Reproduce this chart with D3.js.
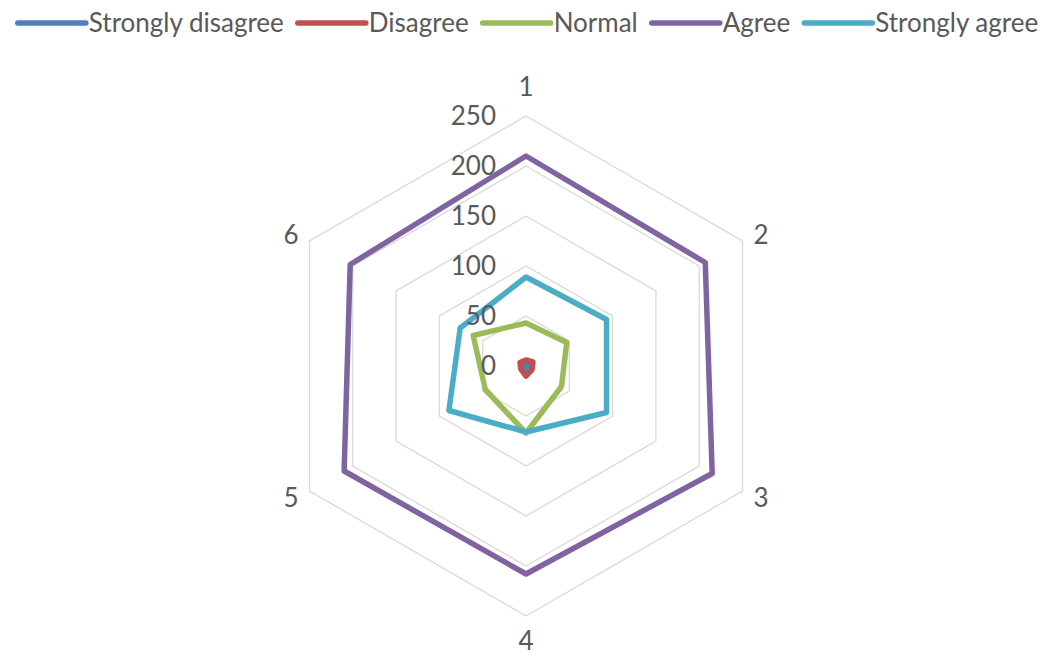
<!DOCTYPE html>
<html>
<head>
<meta charset="utf-8">
<script src="https://cdn.jsdelivr.net/npm/d3@7"></script>
<style>
  body { margin: 0; background: #fff; }
  svg { display: block; }
  text { font-family: Lato, "Open Sans", sans-serif; fill: #595959; }
</style>
</head>
<body>
<svg id="chart" width="1053" height="656"></svg>
<script>
// categories (spokes) and series
var categories = ['1', '2', '3', '4', '5', '6'];
var seriesNames = ['Strongly disagree', 'Disagree', 'Normal', 'Agree', 'Strongly agree'];
var stronglyDisagree = [2, 3, 2, 3, 2, 2];
var disagree = [6, 8, 7, 10, 6, 7];
var normal = [43, 47, 41, 67, 47, 61];
var agree = [210, 207, 215, 208, 210, 203];
var stronglyAgree = [89, 93, 93, 66, 89, 76];
var tickValues = [0, 50, 100, 150, 200, 250];

var colors = ['#4F81BD', '#C0504D', '#9BBB59', '#8064A2', '#4BACC6'];
var seriesData = [stronglyDisagree, disagree, normal, agree, stronglyAgree];

var svg = d3.select('#chart');
var cx = 526, cy = 366, maxR = 250;
var rScale = d3.scaleLinear().domain([0, 250]).range([0, maxR]);
var angle = d3.scalePoint().domain(categories.concat(['_'])).range([0, 2 * Math.PI]);

function pt(cat, v) {
  var a = angle(cat), r = rScale(v);
  return [cx + r * Math.sin(a), cy - r * Math.cos(a)];
}

var radial = d3.line().curve(d3.curveLinearClosed);

// grid rings
var grid = svg.append('g').attr('class', 'grid');
grid.selectAll('path')
  .data(tickValues.filter(function(d){ return d > 0; }))
  .enter().append('path')
  .attr('d', function(v){ return radial(categories.map(function(c){ return pt(c, v); })); })
  .attr('fill', 'none')
  .attr('stroke', '#d9d9d9')
  .attr('stroke-width', 1.3);

// series
var lines = svg.append('g').attr('class', 'series');
lines.selectAll('path')
  .data(seriesData)
  .enter().append('path')
  .attr('d', function(vals){ return radial(categories.map(function(c, i){ return pt(c, vals[i]); })); })
  .attr('fill', 'none')
  .attr('stroke', function(d, i){ return colors[i]; })
  .attr('stroke-width', 5.5)
  .attr('stroke-linejoin', 'round');

// value tick labels
svg.append('g').selectAll('text')
  .data(tickValues)
  .enter().append('text')
  .attr('x', cx - 30)
  .attr('y', function(v){ return cy - rScale(v); })
  .attr('dy', '0.35em')
  .attr('text-anchor', 'end')
  .style('font-size', '26px')
  .text(function(v){ return v; });

// category labels
svg.append('g').selectAll('text')
  .data(categories)
  .enter().append('text')
  .each(function(c){
    var a = angle(c), s = Math.sin(a), co = Math.cos(a);
    var p = pt(c, 250);
    var t = d3.select(this).style('font-size', '26px').attr('dy', '0.35em').text(c);
    if (Math.abs(s) < 0.01) {
      t.attr('x', p[0]).attr('y', p[1] - co * (co > 0 ? 29 : 25)).attr('text-anchor', 'middle');
    } else {
      t.attr('x', p[0] + (s > 0 ? 11 : -11))
       .attr('y', p[1] - co * 13)
       .attr('text-anchor', s > 0 ? 'start' : 'end');
    }
  });

// legend
var legend = svg.append('g').attr('class', 'legend');
var lineLen = 68, gapIn = 3, gapOut = 14, ly = 23;
var items = legend.selectAll('g').data(seriesNames).enter().append('g');
items.append('line')
  .attr('x1', 0).attr('x2', lineLen).attr('y1', ly).attr('y2', ly)
  .attr('stroke', function(d, i){ return colors[i]; })
  .attr('stroke-width', 5.5)
  .attr('stroke-linecap', 'round');
items.append('text')
  .attr('x', lineLen + gapIn).attr('y', ly).attr('dy', '0.35em')
  .style('font-size', '26px')
  .text(function(d){ return d; });
var xPos = 0, offsets = [];
items.each(function(){
  offsets.push(xPos);
  xPos += lineLen + gapIn + this.querySelector('text').getComputedTextLength() + gapOut;
});
var total = xPos - gapOut;
var start = 528 - total / 2;
items.attr('transform', function(d, i){ return 'translate(' + (start + offsets[i]) + ',0)'; });
</script>
</body>
</html>
